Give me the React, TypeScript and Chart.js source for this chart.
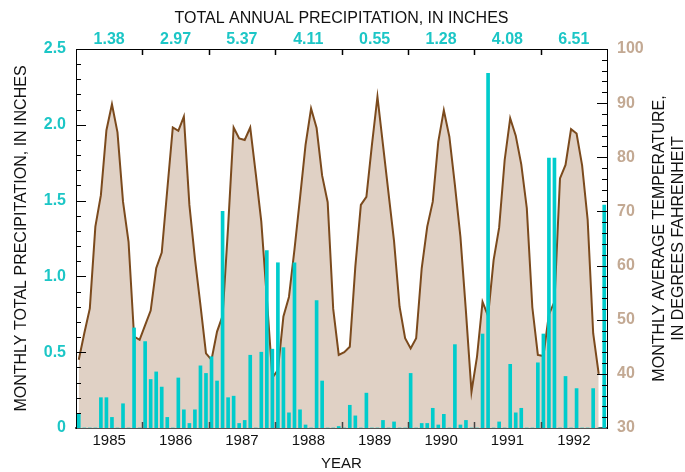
import React, { useEffect, useRef } from "react";
import { Chart, registerables } from "chart.js";

Chart.register(...registerables);

// ---- Data ----
const YEARS = [1985, 1986, 1987, 1988, 1989, 1990, 1991, 1992];
const ANNUAL_TOTALS = ["1.38", "2.97", "5.37", "4.11", "0.55", "1.28", "4.08", "6.51"];

// Monthly total precipitation, inches (Jan..Dec)
const PRECIP_1985 = [0.09, 0, 0, 0, 0.2, 0.2, 0.07, 0, 0.16, 0, 0.66, 0];
const PRECIP_1986 = [0.57, 0.32, 0.37, 0.27, 0.07, 0, 0.33, 0.12, 0.03, 0.12, 0.41, 0.36];
const PRECIP_1987 = [0.47, 0.31, 1.43, 0.2, 0.21, 0.03, 0.05, 0.48, 0, 0.5, 1.17, 0.52];
const PRECIP_1988 = [1.09, 0.53, 0.1, 1.09, 0.12, 0.02, 0, 0.84, 0.31, 0, 0, 0.01];
const PRECIP_1989 = [0, 0.15, 0.08, 0, 0.23, 0, 0, 0.05, 0, 0.04, 0, 0];
const PRECIP_1990 = [0.36, 0, 0.03, 0.03, 0.13, 0.02, 0.09, 0, 0.55, 0.02, 0.05, 0];
const PRECIP_1991 = [0, 0.62, 2.34, 0, 0.04, 0, 0.42, 0.1, 0.13, 0, 0, 0.43];
const PRECIP_1992 = [0.62, 1.78, 1.78, 0, 0.34, 0, 0.26, 0, 0, 0.26, 0, 1.47];

// Monthly average temperature, degrees F (Jan..Dec)
const TEMP_1985 = [42.6, 47.5, 52.1, 67.2, 73.0, 85.0, 89.8, 84.6, 71.8, 64.4, 46.9, 46.3];
const TEMP_1986 = [49.0, 51.7, 59.5, 62.4, 74.0, 85.5, 84.9, 87.5, 71.2, 61.3, 52.7, 43.8];
const TEMP_1987 = [42.6, 47.8, 50.7, 67.2, 85.5, 83.5, 83.2, 85.5, 77.0, 68.1, 54.0, 39.3];
const TEMP_1988 = [40.7, 50.6, 54.2, 63.0, 72.5, 82.3, 89.0, 85.4, 76.6, 71.7, 52.0, 43.5];
const TEMP_1989 = [44.0, 45.0, 59.8, 71.2, 72.7, 82.3, 91.2, 82.3, 73.4, 64.5, 52.4, 46.6];
const TEMP_1990 = [44.7, 46.6, 59.5, 67.2, 71.8, 82.9, 88.7, 83.8, 74.9, 65.3, 51.5, 36.7];
const TEMP_1991 = [43.2, 53.3, 50.7, 61.0, 67.0, 79.5, 87.2, 84.0, 78.7, 70.6, 52.3, 43.5];
const TEMP_1992 = [43.3, 51.0, 53.3, 76.1, 78.6, 85.2, 84.4, 78.5, 68.5, 47.5, 40.0];

const PRECIP_BY_YEAR = [PRECIP_1985, PRECIP_1986, PRECIP_1987, PRECIP_1988, PRECIP_1989, PRECIP_1990, PRECIP_1991, PRECIP_1992];
const TEMP_BY_YEAR = [TEMP_1985, TEMP_1986, TEMP_1987, TEMP_1988, TEMP_1989, TEMP_1990, TEMP_1991, TEMP_1992];

const LEFT_TITLE = "MONTHLY TOTAL PRECIPITATION, IN INCHES";
const RIGHT_TITLE = ["MONTHLY AVERAGE TEMPERATURE,", "IN DEGREES FAHRENHEIT"];
const TOP_TITLE = "TOTAL ANNUAL PRECIPITATION, IN INCHES";
const BOTTOM_TITLE = "YEAR";

// ---- Styles ----
const CYAN = "#00cccc";
const CYAN_TEXT = "#1cc6c6";
const TAN_TEXT = "#c3a993";
const FILL = "#e0d1c5";
const LINE = "#7b4a1d";
const FONT = "'Liberation Sans', Arial, sans-serif";

function toPoints(byYear: number[][]) {
  const pts: { x: number; y: number }[] = [];
  byYear.forEach((arr, yi) => {
    arr.forEach((v, m) => pts.push({ x: YEARS[yi] + (m + 0.5) / 12, y: v }));
  });
  return pts;
}

const decorPlugin = {
  id: "decor",
  afterDatasetsDraw(chart: any) {
    const { ctx, chartArea: a, scales } = chart;
    const yP = scales.yP;
    const yT = scales.yT;
    const x = scales.x;
    ctx.save();
    const seg = (x1: number, y1: number, x2: number, y2: number) => {
      ctx.beginPath();
      ctx.moveTo(x1, y1);
      ctx.lineTo(x2, y2);
      ctx.stroke();
    };
    ctx.strokeStyle = "#000";
    ctx.lineWidth = 1;
    for (let k = 1; k < 25; k++) {
      const py = Math.round(yP.getPixelForValue(k / 10)) + 0.5;
      seg(a.left, py, a.left + (k % 5 === 0 ? 10 : 5), py);
    }
    for (let t = 32; t < 100; t += 2) {
      const py = Math.round(yT.getPixelForValue(t)) + 0.5;
      seg(a.right - (t % 10 === 0 ? 10 : 5), py, a.right, py);
    }
    ctx.lineWidth = 1.5;
    for (let i = 1; i < YEARS.length; i++) {
      const px = Math.round(x.getPixelForValue(YEARS[i])) + 0.5;
      ctx.strokeStyle = "#000";
      seg(px, a.top, px, a.top + 6);
      ctx.strokeStyle = "#444";
      seg(px, a.bottom, px, a.bottom - 6);
    }
    // right axis title, reading bottom-to-top
    ctx.fillStyle = "#111";
    ctx.font = "16px " + FONT;
    ctx.textAlign = "center";
    ctx.textBaseline = "middle";
    const cy = (a.top + a.bottom) / 2;
    const xs = [660, 679];
    RIGHT_TITLE.forEach((line, i) => {
      ctx.save();
      ctx.translate(xs[i], cy);
      ctx.rotate(-Math.PI / 2);
      ctx.fillText(line, 0, 0);
      ctx.restore();
    });
    ctx.restore();
  },
};

export default function App() {
  const ref = useRef<HTMLCanvasElement | null>(null);

  useEffect(() => {
    if (!ref.current) return;
    Chart.defaults.font.family = FONT;
    const yearCenters = () => YEARS.map((y) => ({ value: y + 0.5 }));
    const chart = new Chart(ref.current, {
      type: "bar",
      data: {
        datasets: [
          {
            type: "bar",
            label: "Precipitation",
            data: toPoints(PRECIP_BY_YEAR),
            xAxisID: "x",
            yAxisID: "yP",
            backgroundColor: CYAN,
            borderWidth: 0,
            barThickness: 3,
            order: 0,
          } as any,
          {
            type: "line",
            label: "Temperature",
            data: toPoints(TEMP_BY_YEAR),
            xAxisID: "x",
            yAxisID: "yT",
            borderColor: LINE,
            borderWidth: 2,
            backgroundColor: FILL,
            fill: "start",
            pointRadius: 0,
            tension: 0,
            order: 1,
          } as any,
        ],
      },
      options: {
        responsive: false,
        animation: false,
        layout: { padding: 0 },
        plugins: { legend: { display: false }, tooltip: { enabled: false } },
        scales: {
          x: {
            type: "linear",
            position: "bottom",
            min: 1985,
            max: 1993,
            offset: false,
            afterBuildTicks: (s: any) => {
              s.ticks = yearCenters();
            },
            afterFit: (s: any) => {
              s.height = 44;
            },
            ticks: {
              autoSkip: false,
              maxRotation: 0,
              padding: 4,
              color: "#111",
              font: { size: 15 },
              callback: (_v: any, i: number) => String(YEARS[i]),
            },
            grid: { display: false, drawTicks: false, offset: false },
            border: { display: true, color: "#555", width: 2 },
            title: { display: true, text: BOTTOM_TITLE, color: "#111", font: { size: 15 }, padding: { top: 0, bottom: -1 } },
          },
          xTop: {
            type: "linear",
            position: "top",
            min: 1985,
            max: 1993,
            offset: false,
            afterBuildTicks: (s: any) => {
              s.ticks = yearCenters();
            },
            afterFit: (s: any) => {
              s.height = 49;
            },
            ticks: {
              autoSkip: false,
              maxRotation: 0,
              padding: 0,
              color: CYAN_TEXT,
              font: { size: 16, weight: "bold" },
              callback: (_v: any, i: number) => ANNUAL_TOTALS[i],
            },
            grid: { display: false, drawTicks: false, offset: false },
            border: { display: true, color: "#000", width: 1 },
            title: { display: true, text: TOP_TITLE, color: "#111", font: { size: 16 }, padding: { top: 9, bottom: 0 } },
          },
          yP: {
            type: "linear",
            position: "left",
            min: 0,
            max: 2.5,
            afterFit: (s: any) => {
              s.width = 76;
            },
            ticks: {
              stepSize: 0.5,
              padding: 10,
              color: CYAN_TEXT,
              font: { size: 16, weight: "bold" },
              callback: (v: any) => (Number(v) === 0 ? "0" : Number(v).toFixed(1)),
            },
            grid: { display: false, drawTicks: false },
            border: { display: true, color: "#000", width: 1 },
            title: { display: true, text: LEFT_TITLE, color: "#111", font: { size: 16 }, padding: { top: 12, bottom: 0 } },
          },
          yT: {
            type: "linear",
            position: "right",
            min: 30,
            max: 100,
            afterFit: (s: any) => {
              s.width = 78;
            },
            ticks: {
              stepSize: 10,
              padding: 10,
              color: TAN_TEXT,
              font: { size: 16, weight: "bold" },
            },
            grid: { display: false, drawTicks: false },
            border: { display: true, color: "#000", width: 1 },
          },
        },
      } as any,
      plugins: [decorPlugin],
    });
    return () => chart.destroy();
  }, []);

  return (
    <div style={{ position: "absolute", left: 0, top: 0, width: 685, height: 472, background: "#fff" }}>
      <canvas ref={ref} width={685} height={472} style={{ display: "block" }} />
    </div>
  );
}
